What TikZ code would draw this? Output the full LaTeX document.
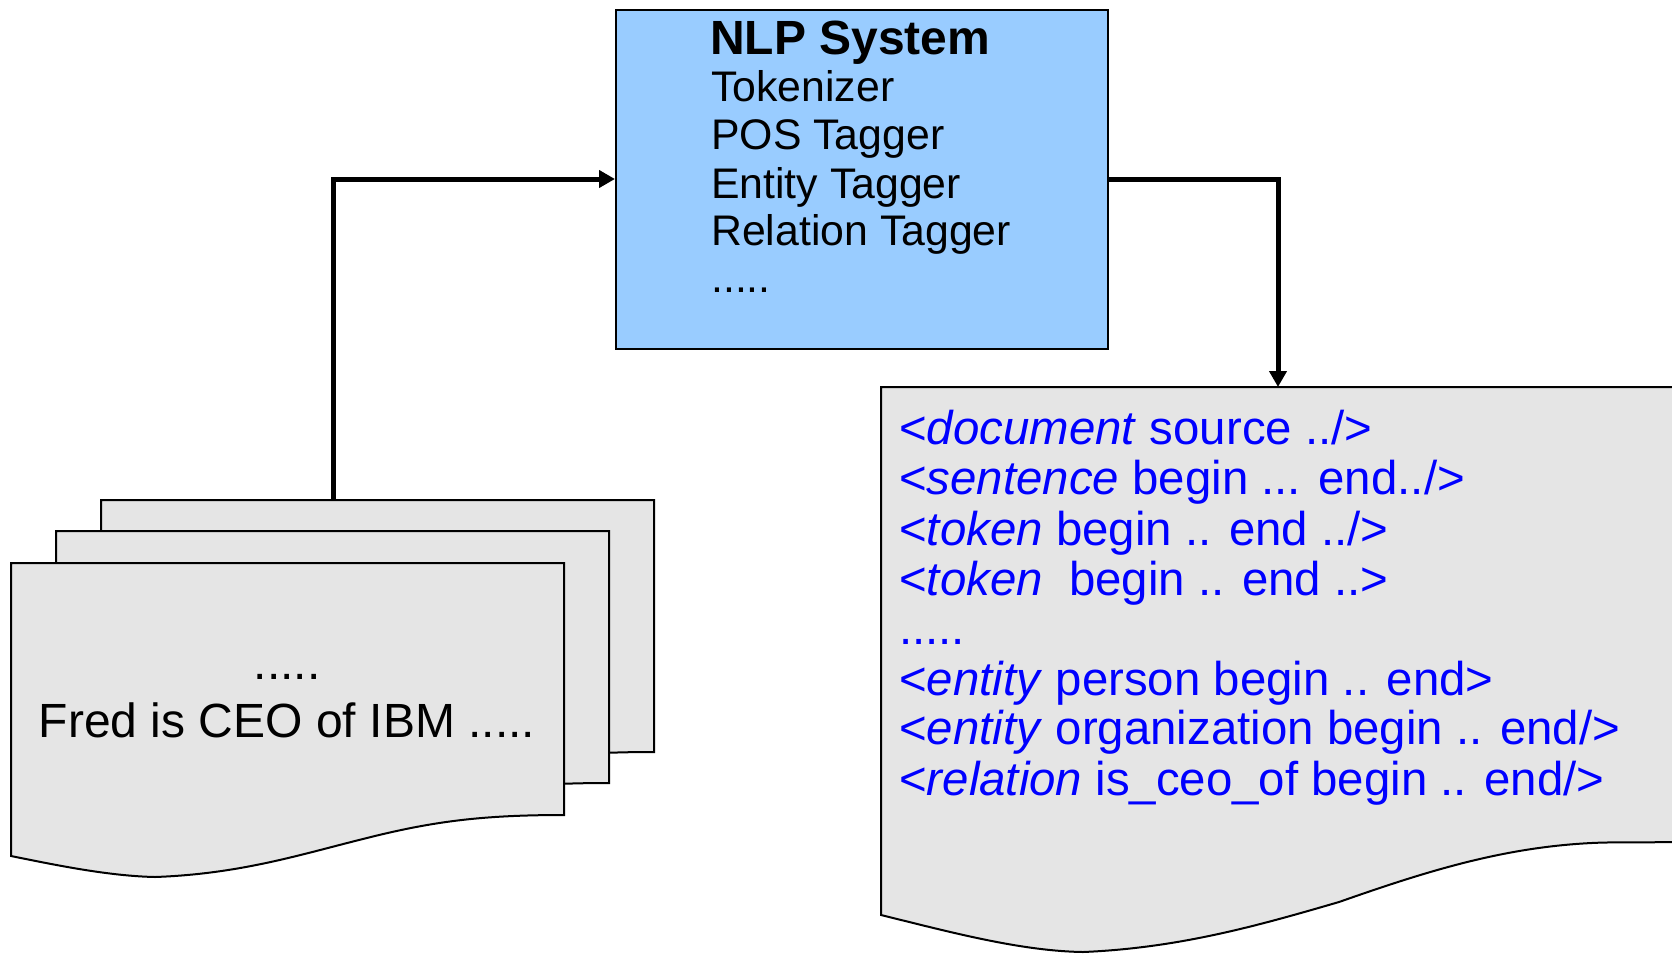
\documentclass[tikz,border=0pt]{standalone}
\usepackage{fontspec}
\setmainfont{Liberation Sans}
\usetikzlibrary{arrows.meta}
\definecolor{nlpblue}{RGB}{153,204,255}
\definecolor{docgray}{RGB}{229,229,229}
\definecolor{tagblue}{RGB}{0,0,255}
\begin{document}
\begin{tikzpicture}[x=1pt,y=-1pt,
  docshape/.style={fill=docgray,draw=black,line width=2pt,line join=miter},
  sysbox/.style={fill=nlpblue,draw=black,line width=2pt,minimum width=492pt,minimum height=339pt,inner sep=0pt},
  conn/.style={line width=5pt,-{Triangle[length=16pt,width=17pt]}},
  systitle/.style={anchor=base west,inner sep=0pt,font=\fontsize{48}{50}\selectfont\bfseries},
  sysline/.style={anchor=base west,inner sep=0pt,font=\fontsize{42.8}{48}\selectfont},
  fredline/.style={anchor=base,inner sep=0pt,font=\fontsize{48}{52}\selectfont},
  tagline/.style={anchor=base west,inner sep=0pt,text=tagblue,font=\fontsize{47.4}{50}\selectfont},
  paper/.pic={\path[docshape] (0,0) -- (553,0) -- (553,252)
      .. controls (467,252) and (418,259) .. (348,277)
      .. controls (288,292) and (228,311) .. (144,314)
      .. controls (99,313) and (49,303) .. (0,293) -- cycle;}
]
\useasboundingbox (0,0) rectangle (1672,953);

% input document stack
\pic at (101,500) {paper};
\pic at (56,531) {paper};
\pic at (11,563) {paper};
\node[fredline] (dots) at (287,679) {.....};
\node[fredline] (fred) at (287,737) {Fred is CEO of IBM .....};
\coordinate (src) at (333,500);

% NLP system box
\node[sysbox] (nlp) at (862,179) {};
\node[systitle] (t0) at (710,54) {NLP System};
\node[sysline] (t1) at (711,101) {Tokenizer};
\node[sysline] (t2) at (711,149) {POS Tagger};
\node[sysline] (t3) at (711,198) {Entity Tagger};
\node[sysline] (t4) at (711,245) {Relation Tagger};
\node[sysline] (t5) at (711,292) {.....};

% output document
\path[docshape] (881,387) -- (1700,387) -- (1700,842) -- (1605,842.5)
   .. controls (1510,845) and (1430,870) .. (1339,902)
   .. controls (1260,925) and (1180,948) .. (1083,952)
   .. controls (1020,951) and (950,932) .. (881,915) -- cycle;
\coordinate (out) at (1278,387);
\node[tagline] (l1) at (899,444) {<\textit{document} source ../>};
\node[tagline] (l2) at (899,494) {<\textit{sentence} begin ... end../>};
\node[tagline] (l3) at (899,545) {<\textit{token} begin .. end ../>};
\node[tagline] (l4) at (899,595) {<\textit{token}\ \ begin .. end ..>};
\node[tagline] (l5) at (899,644) {.....};
\node[tagline] (l6) at (899,695) {<\textit{entity} person begin .. end>};
\node[tagline] (l7) at (899,744) {<\textit{entity} organization begin .. end/>};
\node[tagline] (l8) at (899,795) {<\textit{relation} is\_ceo\_of begin .. end/>};

% connectors
\draw[conn] (src) |- (nlp.west);
\draw[conn] (nlp.east) -| (out);
\end{tikzpicture}
\end{document}
